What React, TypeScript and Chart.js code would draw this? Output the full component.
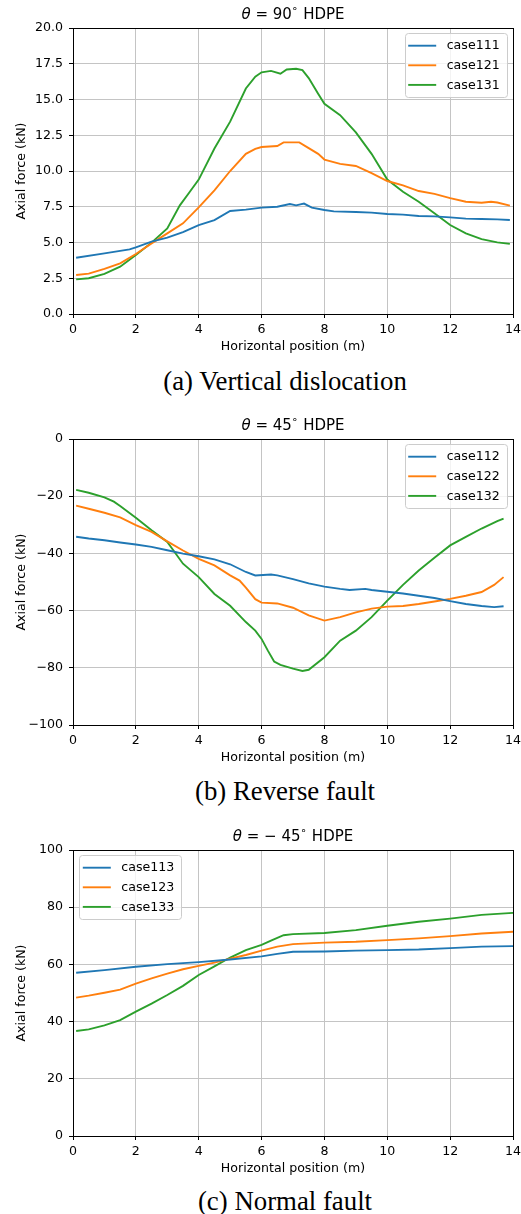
import React, { useEffect, useRef } from "react";
import { Chart, registerables } from "chart.js";

Chart.register(...registerables);

// ---------- DATA ----------
// (a) Vertical dislocation, theta = 90
const x111 = [0.1, 1, 1.8, 2, 2.5, 3, 3.5, 4, 4.5, 5, 5.5, 6, 6.5, 6.9, 7.1, 7.35, 7.6, 8, 8.3, 9, 9.5, 10, 10.5, 11, 11.5, 12, 12.5, 13, 13.5, 13.9];
const y111 = [3.93, 4.24, 4.52, 4.66, 5.06, 5.34, 5.73, 6.22, 6.57, 7.2, 7.3, 7.44, 7.5, 7.69, 7.6, 7.72, 7.44, 7.27, 7.18, 7.13, 7.09, 6.99, 6.95, 6.85, 6.83, 6.76, 6.67, 6.64, 6.62, 6.57];
const x121 = [0.1, 0.5, 1, 1.5, 2, 2.5, 3, 3.5, 4, 4.5, 5, 5.5, 5.8, 6, 6.5, 6.7, 7.2, 7.5, 7.8, 8, 8.5, 9, 9.5, 10, 10.5, 11, 11.5, 12, 12.5, 13, 13.3, 13.5, 13.9];
const y121 = [2.73, 2.82, 3.15, 3.54, 4.2, 4.94, 5.64, 6.34, 7.46, 8.65, 10.0, 11.2, 11.55, 11.68, 11.75, 12.0, 12.0, 11.6, 11.2, 10.8, 10.5, 10.35, 9.85, 9.3, 9.0, 8.6, 8.4, 8.1, 7.85, 7.78, 7.85, 7.8, 7.58];
const x131 = [0.1, 0.5, 1, 1.5, 2, 2.5, 3, 3.4, 3.7, 4, 4.5, 5, 5.5, 5.8, 6, 6.3, 6.6, 6.8, 7.1, 7.3, 7.5, 7.8, 8, 8.5, 9, 9.5, 10, 10.5, 11, 11.5, 12, 12.5, 13, 13.5, 13.9];
const y131 = [2.42, 2.5, 2.8, 3.31, 4.13, 4.99, 5.99, 7.6, 8.5, 9.4, 11.57, 13.45, 15.77, 16.6, 16.9, 17.0, 16.8, 17.1, 17.15, 17.05, 16.5, 15.4, 14.7, 13.9, 12.7, 11.2, 9.4, 8.55, 7.85, 7.04, 6.22, 5.64, 5.24, 5.01, 4.9];

// (b) Reverse fault, theta = 45
const x112 = [0.1, 0.5, 1, 1.5, 2, 2.5, 3, 3.5, 4, 4.5, 5, 5.5, 5.8, 6.3, 6.5, 7, 7.5, 8, 8.5, 8.8, 9.3, 9.5, 10, 10.5, 11, 11.5, 12, 12.5, 13, 13.4, 13.7];
const y112 = [-34.2, -34.8, -35.4, -36.2, -36.9, -37.7, -38.9, -40.1, -41.0, -42.1, -43.8, -46.5, -47.7, -47.4, -47.7, -49.0, -50.5, -51.6, -52.4, -52.8, -52.4, -52.8, -53.4, -54.0, -54.8, -55.6, -56.7, -57.7, -58.4, -58.8, -58.5];
const x122 = [0.1, 0.5, 1, 1.5, 2, 2.5, 3, 3.5, 4, 4.5, 5, 5.3, 5.5, 5.8, 6, 6.5, 7, 7.5, 8, 8.5, 9, 9.5, 10, 10.5, 11, 11.5, 12, 12.5, 13, 13.4, 13.7];
const y122 = [-23.3, -24.4, -25.8, -27.4, -30.1, -32.5, -35.8, -39.0, -41.9, -44.2, -47.7, -49.5, -52.0, -56.0, -57.2, -57.5, -59.0, -61.7, -63.5, -62.3, -60.6, -59.3, -58.6, -58.4, -57.7, -56.8, -55.9, -54.8, -53.5, -51.0, -48.3];
const x132 = [0.1, 0.5, 1, 1.3, 1.5, 2, 2.5, 3, 3.5, 4, 4.5, 5, 5.5, 5.8, 6, 6.2, 6.4, 6.6, 7, 7.3, 7.5, 8, 8.5, 9, 9.5, 10, 10.5, 11, 11.5, 12, 12.5, 13, 13.5, 13.7];
const y132 = [-17.8, -18.8, -20.4, -21.9, -23.4, -27.5, -31.9, -36.0, -43.6, -48.3, -54.2, -58.3, -64.0, -67.0, -69.9, -74.0, -77.8, -79.0, -80.3, -81.1, -80.7, -76.3, -70.5, -67.0, -62.3, -56.5, -51.0, -46.0, -41.5, -37.2, -34.2, -31.3, -28.7, -27.8];

// (c) Normal fault, theta = -45
const x113 = [0.1, 1, 2, 3, 4, 5, 6, 6.5, 7, 8, 9, 10, 11, 12, 13, 14];
const y113 = [57.1, 58.0, 59.2, 60.1, 60.8, 61.7, 62.8, 63.7, 64.4, 64.5, 64.8, 65.0, 65.2, 65.7, 66.2, 66.4];
const x123 = [0.1, 0.5, 1, 1.5, 2, 2.5, 3, 3.5, 4, 4.5, 5, 5.5, 6, 6.5, 7, 8, 9, 10, 11, 12, 13, 14];
const y123 = [48.4, 49.1, 50.1, 51.2, 53.3, 55.1, 56.8, 58.3, 59.5, 60.6, 62.0, 63.3, 64.8, 66.2, 67.1, 67.6, 67.9, 68.5, 69.1, 69.9, 70.8, 71.4];
const x133 = [0.1, 0.5, 1, 1.5, 2, 2.5, 3, 3.5, 4, 4.5, 5, 5.5, 6, 6.3, 6.7, 7, 8, 9, 10, 11, 12, 13, 14];
const y133 = [36.7, 37.3, 38.7, 40.5, 43.5, 46.3, 49.3, 52.5, 56.3, 59.3, 62.4, 65.0, 66.8, 68.3, 70.2, 70.6, 71.0, 72.0, 73.5, 74.9, 76.0, 77.3, 78.0];

const xTicks = [0, 2, 4, 6, 8, 10, 12, 14];
const captions = ["(a) Vertical dislocation", "(b) Reverse fault", "(c) Normal fault"];
const angleText = ["90", "45", "\u2212 45"];
const labelsA = ["case111", "case121", "case131"];
const labelsB = ["case112", "case122", "case132"];
const labelsC = ["case113", "case123", "case133"];
const COLORS = ["#1f77b4", "#ff7f0e", "#2ca02c"];

// ---------- STYLE ----------
const FONT = '"DejaVu Sans", sans-serif';
const FS = 12.6;
const TITLE_FS = 15;
const CANVAS_W = 521;
const CANVAS_H = 360;
const TOPS = [0, 411, 822];
const CAPTION_TOPS = [368, 778, 1188];

type Spec = {
  title: string;
  legendLoc: "right" | "left";
  ymin: number;
  ymax: number;
  ystep: number;
  yfmt: (v: number) => string;
  series: { label: string; xs: number[]; ys: number[]; color: string }[];
};

const fmtMinus = (v: number) => (v < 0 ? "\u2212" + Math.abs(v) : String(v));

const specs: Spec[] = [
  {
    title: angleText[0],
    legendLoc: "right",
    ymin: 0,
    ymax: 20,
    ystep: 2.5,
    yfmt: (v) => v.toFixed(1),
    series: [
      { label: labelsA[0], xs: x111, ys: y111, color: COLORS[0] },
      { label: labelsA[1], xs: x121, ys: y121, color: COLORS[1] },
      { label: labelsA[2], xs: x131, ys: y131, color: COLORS[2] },
    ],
  },
  {
    title: angleText[1],
    legendLoc: "right",
    ymin: -100,
    ymax: 0,
    ystep: 20,
    yfmt: fmtMinus,
    series: [
      { label: labelsB[0], xs: x112, ys: y112, color: COLORS[0] },
      { label: labelsB[1], xs: x122, ys: y122, color: COLORS[1] },
      { label: labelsB[2], xs: x132, ys: y132, color: COLORS[2] },
    ],
  },
  {
    title: angleText[2],
    legendLoc: "left",
    ymin: 0,
    ymax: 100,
    ystep: 20,
    yfmt: fmtMinus,
    series: [
      { label: labelsC[0], xs: x113, ys: y113, color: COLORS[0] },
      { label: labelsC[1], xs: x123, ys: y123, color: COLORS[1] },
      { label: labelsC[2], xs: x133, ys: y133, color: COLORS[2] },
    ],
  },
];

const decorPlugin = {
  id: "decor",
  afterDraw(chart: any, _args: any, opts: any) {
    const ctx: CanvasRenderingContext2D = chart.ctx;
    const a = chart.chartArea;
    ctx.save();

    // spines
    ctx.strokeStyle = "#000";
    ctx.lineWidth = 1;
    const L = Math.round(a.left - 0.5) + 0.5;
    const R = Math.round(a.right - 0.5) + 0.5;
    const T = Math.round(a.top - 0.5) + 0.5;
    const B = Math.round(a.bottom - 0.5) + 0.5;
    ctx.strokeRect(L, T, R - L, B - T);

    // title: theta = NN ° HDPE
    const pieces = [
      { t: "\u03B8", it: true, sup: false },
      { t: " = " + opts.angle, it: false, sup: false },
      { t: "\u2218", it: false, sup: true },
      { t: " HDPE", it: false, sup: false },
    ];
    const fontOf = (p: any) => `${p.it ? "italic " : ""}${p.sup ? TITLE_FS * 0.7 : TITLE_FS}px ${FONT}`;
    let total = 0;
    const widths: number[] = [];
    for (const p of pieces) {
      ctx.font = fontOf(p);
      const w = ctx.measureText(p.t).width;
      widths.push(w);
      total += w;
    }
    let x = (a.left + a.right) / 2 - total / 2;
    const baseY = 18.5;
    ctx.fillStyle = "#000";
    ctx.textAlign = "left";
    ctx.textBaseline = "alphabetic";
    pieces.forEach((p, i) => {
      ctx.font = fontOf(p);
      ctx.fillText(p.t, x, p.sup ? baseY - TITLE_FS * 0.45 : baseY);
      x += widths[i];
    });

    // legend
    const w = 102;
    const h = 64;
    const pad = 6.3;
    const bx = opts.legendLoc === "right" ? a.right - pad - w : a.left + pad;
    const by = a.top + 5.3;
    ctx.beginPath();
    (ctx as any).roundRect(Math.round(bx) + 0.5, Math.round(by) + 0.5, w, h, 3);
    ctx.fillStyle = "rgba(255,255,255,0.8)";
    ctx.fill();
    ctx.strokeStyle = "#cccccc";
    ctx.lineWidth = 1;
    ctx.stroke();
    const ds = chart.data.datasets;
    ds.forEach((d: any, i: number) => {
      const y = by + 12.4 + i * 19.6;
      ctx.beginPath();
      ctx.moveTo(bx + 3.5, y);
      ctx.lineTo(bx + 31.5, y);
      ctx.strokeStyle = d.borderColor;
      ctx.lineWidth = 1.9;
      ctx.stroke();
      ctx.fillStyle = "#000";
      ctx.font = `${FS}px ${FONT}`;
      ctx.textBaseline = "middle";
      ctx.fillText(d.label, bx + 42, y + 0.5);
    });

    ctx.restore();
  },
};

function makeConfig(spec: Spec): any {
  const gridOpts = { color: "#c4c4c4", lineWidth: 1, tickColor: "#000", tickLength: 4 };
  return {
    type: "line",
    data: {
      datasets: spec.series.map((s) => ({
        label: s.label,
        data: s.xs.map((x, i) => ({ x, y: s.ys[i] })),
        borderColor: s.color,
        backgroundColor: s.color,
        borderWidth: 1.9,
        pointRadius: 0,
        tension: 0,
        fill: false,
      })),
    },
    options: {
      responsive: false,
      animation: false,
      events: [],
      layout: { padding: { left: 0, right: 8, top: 28, bottom: 0 } },
      plugins: {
        legend: { display: false },
        title: { display: false },
        tooltip: { enabled: false },
        decor: { angle: spec.title, legendLoc: spec.legendLoc },
      },
      scales: {
        x: {
          type: "linear",
          min: 0,
          max: 14,
          afterBuildTicks: (s: any) => {
            s.ticks = xTicks.map((v) => ({ value: v }));
          },
          ticks: {
            padding: 4.5,
            color: "#000",
            font: { family: FONT, size: FS },
            maxRotation: 0,
            autoSkip: false,
          },
          grid: gridOpts,
          border: { display: false },
          title: {
            display: true,
            text: "Horizontal position (m)",
            color: "#000",
            font: { family: FONT, size: FS },
            padding: { top: 0, bottom: 5.4 },
          },
          afterFit: (s: any) => {
            s.height = 46;
            s.paddingLeft = 0;
            s.paddingRight = 0;
          },
        },
        y: {
          type: "linear",
          min: spec.ymin,
          max: spec.ymax,
          ticks: {
            stepSize: spec.ystep,
            padding: 6,
            color: "#000",
            font: { family: FONT, size: FS },
            callback: (v: number) => spec.yfmt(v),
          },
          grid: gridOpts,
          border: { display: false },
          title: {
            display: true,
            text: "Axial force (kN)",
            color: "#000",
            font: { family: FONT, size: FS },
            padding: { top: 14.4, bottom: 0 },
          },
          afterFit: (s: any) => {
            s.width = 73;
            s.paddingTop = 0;
            s.paddingBottom = 0;
          },
        },
      },
    },
    plugins: [decorPlugin],
  };
}

function ChartBlock({ spec, top }: { spec: Spec; top: number }) {
  const ref = useRef<HTMLCanvasElement | null>(null);
  useEffect(() => {
    if (!ref.current) return;
    const chart = new Chart(ref.current, makeConfig(spec));
    return () => chart.destroy();
  }, [spec]);
  return (
    <canvas
      ref={ref}
      width={CANVAS_W}
      height={CANVAS_H}
      style={{ position: "absolute", left: 0, top, width: CANVAS_W, height: CANVAS_H, display: "block" }}
    />
  );
}

export default function App() {
  return (
    <div style={{ position: "absolute", left: 0, top: 0, width: 521, height: 1214, background: "#fff", overflow: "hidden" }}>
      {specs.map((s, i) => (
        <React.Fragment key={i}>
          <ChartBlock spec={s} top={TOPS[i]} />
          <div
            style={{
              position: "absolute",
              left: 285,
              top: CAPTION_TOPS[i],
              transform: "translateX(-50%)",
              fontFamily: '"Liberation Serif", "Times New Roman", serif',
              fontSize: 26.8,
              lineHeight: "26px",
              whiteSpace: "nowrap",
              color: "#000",
            }}
          >
            {captions[i]}
          </div>
        </React.Fragment>
      ))}
    </div>
  );
}
